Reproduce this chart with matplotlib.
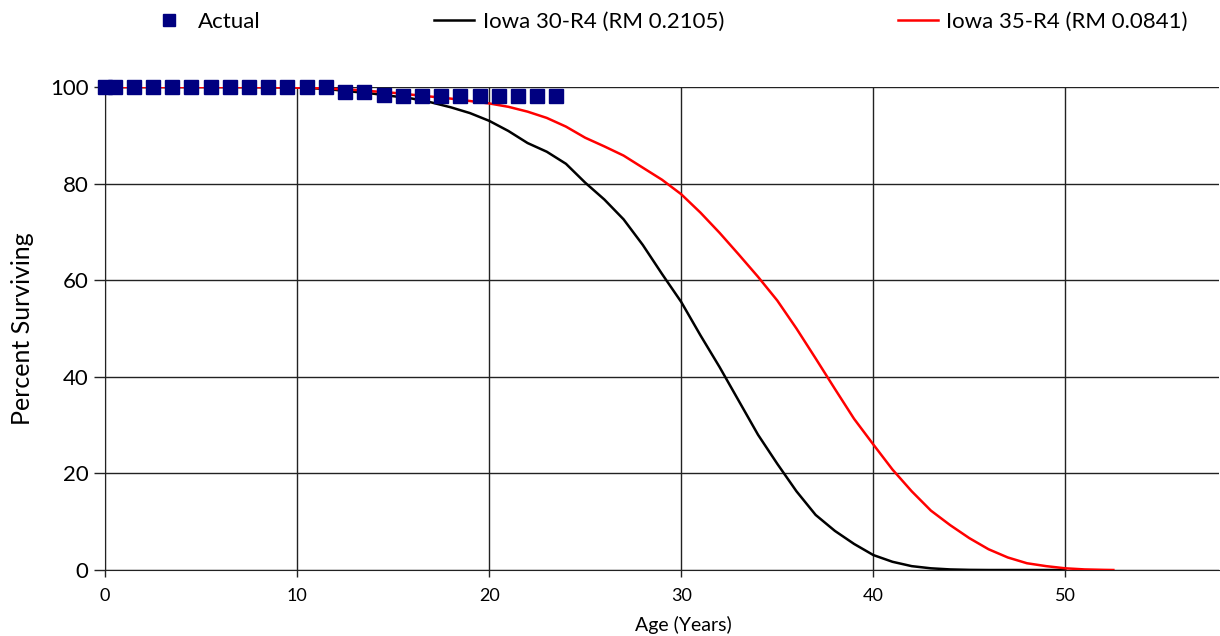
import matplotlib.pyplot as plt
import numpy as np

plt.rcParams['font.family'] = ['Lato', 'DejaVu Sans']

# actual observations (age, percent surviving)
actual_age = [0, 0.5] + [i + 0.5 for i in range(1, 24)]
actual_pct = [100, 100, 100, 100, 100, 100, 100, 100, 100, 100, 100, 100, 100,
              98.9, 98.9, 98.3, 98.2, 98.1, 98.1, 98.1, 98.1, 98.1, 98.1, 98.1, 98.1]

# Iowa 30-R4 curve
age_30 = list(range(0, 51))
pct_30 = [100, 100, 100, 100, 100, 100, 100, 99.99, 99.97, 99.94, 99.9,
          99.7, 99.4, 99.0, 98.6, 98.1, 97.6, 96.8, 95.8, 94.6, 93.0,
          90.9, 88.4, 86.6, 84.1, 80.2, 76.7, 72.6, 67.3, 61.3, 55.5,
          48.6, 42.0, 35.0, 28.0, 22.0, 16.3, 11.4, 8.1, 5.4, 3.1,
          1.7, 0.8, 0.35, 0.12, 0.03, 0, 0, 0, 0, 0]

# Iowa 35-R4 curve
age_35 = list(range(0, 53)) + [52.5]
pct_35 = [100, 100, 100, 100, 100, 100, 100, 99.99, 99.97, 99.93, 99.87,
          99.8, 99.6, 99.4, 99.1, 98.8, 98.4, 98.0, 97.6, 97.1, 96.6,
          95.9, 94.9, 93.6, 91.8, 89.5, 87.7, 85.8, 83.3, 80.8, 77.8,
          74.0, 69.8, 65.3, 60.7, 55.8, 50.0, 43.8, 37.5, 31.3, 26.0,
          20.8, 16.3, 12.3, 9.3, 6.6, 4.3, 2.6, 1.4, 0.8, 0.35,
          0.12, 0.03, 0]

fig = plt.figure(figsize=(12.2, 6.36), dpi=100)
ax = fig.add_axes([105/1220, 1 - 570/636, 1114/1220, (570-87)/636])

ax.plot(age_30, pct_30, color='black', lw=1.8, label='Iowa 30-R4 (RM 0.2105)', zorder=3)
ax.plot(age_35, pct_35, color='red', lw=1.8, label='Iowa 35-R4 (RM 0.0841)', zorder=3)
ax.plot(actual_age, actual_pct, ls='none', marker='s', ms=10, color='#000080',
        label='Actual', zorder=4, clip_on=False)

ax.set_xlim(0, 58)
ax.set_ylim(0, 100)
ax.set_xticks([0, 10, 20, 30, 40, 50])
ax.set_yticks([0, 20, 40, 60, 80, 100])
ax.grid(True, color='#222222', lw=1)
ax.set_axisbelow(True)
for s in ['top', 'right']:
    ax.spines[s].set_visible(False)
ax.spines['left'].set_color('#222222')
ax.spines['bottom'].set_color('#222222')
ax.tick_params(axis='y', labelsize=16, length=8, width=1, color='#222222', pad=4)
ax.tick_params(axis='x', labelsize=13, length=5, width=1, color='#222222', pad=8)

ax.set_ylabel('Percent Surviving', fontsize=18)
ax.yaxis.set_label_coords(-0.064, 0.5)
ax.set_xlabel('Age (Years)', fontsize=14)
ax.xaxis.set_label_coords(0.519, -0.095)

h, l = ax.get_legend_handles_labels()
order = [2, 0, 1]
fig.legend([h[i] for i in order], [l[i] for i in order], loc='center',
           bbox_to_anchor=(0.548, 0.966), ncol=3, frameon=False, fontsize=16,
           columnspacing=7.8, handlelength=1.8, handletextpad=0.4, markerscale=0.8)

plt.savefig('out.png')
